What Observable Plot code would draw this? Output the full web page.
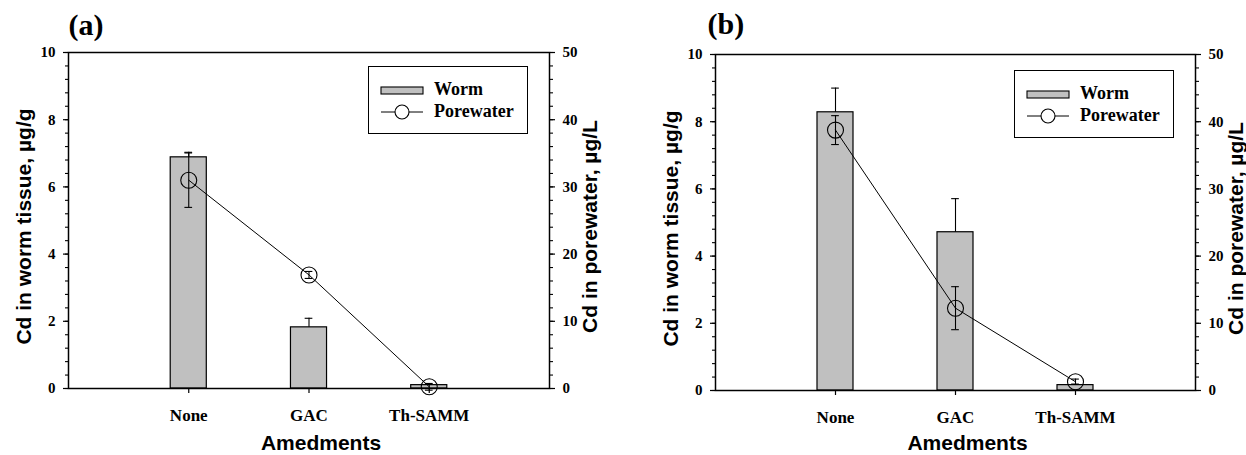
<!DOCTYPE html>
<html>
<head>
<meta charset="utf-8">
<script src="https://cdn.jsdelivr.net/npm/d3@7"></script>
<script src="https://cdn.jsdelivr.net/npm/@observablehq/plot@0.6"></script>
<style>
  body { margin: 0; background: #fff; }
  #wrap { position: relative; width: 1246px; height: 455px; overflow: hidden; background: #fff; }
  .panel { position: absolute; top: 0; }
  .legend { position: absolute; box-sizing: border-box; border: 1.3px solid #000; background: #fff; }
</style>
</head>
<body>
<div id="wrap"></div>
<script>
// ---- data ----
const categories = ["None", "GAC", "Th-SAMM"];
const panelTitles = ["(a)", "(b)"];
const seriesNames = ["Worm", "Porewater"];
const xLabel = "Amedments";
const yLabelLeft = "Cd in worm tissue, µg/g";
const yLabelRight = "Cd in porewater, µg/L";

const wormA = [6.88, 1.82, 0.10];
const wormErrA = [0.15, 0.27, 0.03];
const poreA = [31.0, 16.9, 0.25];
const poreErrA = [4.05, 0.52, 0.5];

const wormB = [8.28, 4.71, 0.16];
const wormErrB = [0.72, 1.0, 0.03];
const poreB = [38.75, 12.25, 1.3];
const poreErrB = [2.15, 3.2, 0.4];

const leftTicks = [0, 2, 4, 6, 8, 10];
const rightTicks = [0, 10, 20, 30, 40, 50];
const rightToLeft = 5; // right axis max 50 vs left axis max 10

// ---- chart ----
const wrap = document.getElementById("wrap");
const serif = "'Liberation Serif', 'Times New Roman', serif";
const sans = "'Liberation Sans', Arial, sans-serif";

function panel({worm, wormErr, pore, poreErr, title, margins, titleDx, titleDy, xLabelDy}) {
  const idx = categories.map((_, i) => i);
  const pos = i => i + 1;
  const halfBar = 0.15, halfCap = 0.032;
  const leftMinor = d3.range(0, 10.001, 0.4);
  const rightMinor = d3.range(0, 50.001, 2).map(v => v / rightToLeft);
  return Plot.plot({
    width: 623,
    height: 455,
    ...margins,
    style: {fontFamily: serif, fontWeight: "bold", fontSize: "15px", color: "#000", background: "#fff"},
    x: {domain: [0, 4], axis: null},
    y: {domain: [0, 10], axis: null},
    marks: [
      // bars (worm)
      Plot.rectY(idx, {x1: i => pos(i) - halfBar, x2: i => pos(i) + halfBar, y1: 0, y2: i => worm[i],
        fill: "#c0c0c0", stroke: "#000", strokeWidth: 1.2}),
      // worm error (upper)
      Plot.ruleX(idx, {x: pos, y1: i => worm[i], y2: i => worm[i] + wormErr[i], stroke: "#000", strokeWidth: 1.1}),
      Plot.ruleY(idx, {y: i => worm[i] + wormErr[i], x1: i => pos(i) - halfCap, x2: i => pos(i) + halfCap, stroke: "#000", strokeWidth: 1.1}),
      // porewater line
      Plot.line(idx, {x: pos, y: i => pore[i] / rightToLeft, stroke: "#000", strokeWidth: 1}),
      // porewater errors
      Plot.ruleX(idx, {x: pos, y1: i => (pore[i] - poreErr[i]) / rightToLeft, y2: i => (pore[i] + poreErr[i]) / rightToLeft, stroke: "#000", strokeWidth: 1.1}),
      Plot.ruleY(idx, {y: i => (pore[i] - poreErr[i]) / rightToLeft, x1: i => pos(i) - halfCap, x2: i => pos(i) + halfCap, stroke: "#000", strokeWidth: 1.1}),
      Plot.ruleY(idx, {y: i => (pore[i] + poreErr[i]) / rightToLeft, x1: i => pos(i) - halfCap, x2: i => pos(i) + halfCap, stroke: "#000", strokeWidth: 1.1}),
      // porewater points
      Plot.dot(idx, {x: pos, y: i => pore[i] / rightToLeft, r: 8, stroke: "#000", fill: "none", strokeWidth: 1.1}),
      // frame
      Plot.frame({stroke: "#000", strokeWidth: 1.5}),
      // left axis
      Plot.axisY(leftMinor, {anchor: "left", tickSize: 3, tickFormat: () => "", label: null, strokeWidth: 1.1}),
      Plot.axisY(leftTicks, {anchor: "left", tickSize: 5, tickPadding: 8, label: null, strokeWidth: 1.2,
        fontFamily: serif, fontWeight: "bold", fontSize: 15}),
      // right axis
      Plot.axisY(rightMinor, {anchor: "right", tickSize: 3, tickFormat: () => "", label: null, strokeWidth: 1.1}),
      Plot.axisY(rightTicks.map(v => v / rightToLeft), {anchor: "right", tickSize: 5, tickPadding: 8, label: null,
        tickFormat: v => String(Math.round(v * rightToLeft)), strokeWidth: 1.2,
        fontFamily: serif, fontWeight: "bold", fontSize: 15}),
      // x axis
      Plot.axisX(idx.map(pos), {anchor: "bottom", tickSize: 5, tickPadding: 15, label: null,
        tickFormat: v => categories[v - 1], strokeWidth: 1.2,
        fontFamily: serif, fontWeight: "bold", fontSize: 17}),
      // axis titles
      Plot.text([xLabel], {frameAnchor: "bottom", textAnchor: "middle", lineAnchor: "middle", dx: 12, dy: xLabelDy,
        fontFamily: sans, fontWeight: "bold", fontSize: 21}),
      Plot.text([yLabelLeft], {frameAnchor: "left", textAnchor: "middle", lineAnchor: "middle", rotate: -90, dx: -44, dy: 6,
        fontFamily: sans, fontWeight: "bold", fontSize: 21}),
      Plot.text([yLabelRight], {frameAnchor: "right", textAnchor: "middle", lineAnchor: "middle", rotate: -90, dx: 41, dy: 6,
        fontFamily: sans, fontWeight: "bold", fontSize: 21}),
      // panel title
      Plot.text([title], {frameAnchor: "top-left", textAnchor: "start", lineAnchor: "middle", dx: titleDx, dy: titleDy,
        fontFamily: serif, fontWeight: "bold", fontSize: 30})
    ]
  });
}

function legend(left, top) {
  const div = document.createElement("div");
  div.className = "legend";
  div.style.left = left + "px";
  div.style.top = top + "px";
  div.style.width = "160px";
  div.style.height = "68px";
  const svg = d3.create("svg").attr("width", 158).attr("height", 66).style("display", "block");
  svg.append("rect").attr("x", 12).attr("y", 20).attr("width", 42).attr("height", 7)
    .attr("fill", "#c0c0c0").attr("stroke", "#000").attr("stroke-width", 1.1);
  svg.append("line").attr("x1", 12).attr("x2", 54).attr("y1", 45).attr("y2", 45).attr("stroke", "#000");
  svg.append("circle").attr("cx", 33).attr("cy", 45).attr("r", 7).attr("fill", "#fff").attr("stroke", "#000").attr("stroke-width", 1.1);
  svg.selectAll("text.lab").data(seriesNames).join("text").attr("class", "lab")
    .attr("x", 65).attr("y", (d, i) => i === 0 ? 28 : 50)
    .attr("font-family", serif).attr("font-weight", "bold").attr("font-size", 18).text(d => d);
  div.appendChild(svg.node());
  return div;
}

const pa = panel({worm: wormA, wormErr: wormErrA, pore: poreA, poreErr: poreErrA, title: panelTitles[0],
  margins: {marginLeft: 68, marginRight: 74, marginTop: 52, marginBottom: 67}, titleDx: 0, titleDy: -27, xLabelDy: 55});
const pb = panel({worm: wormB, wormErr: wormErrB, pore: poreB, poreErr: poreErrB, title: panelTitles[1],
  margins: {marginLeft: 92, marginRight: 51, marginTop: 54, marginBottom: 65}, titleDx: -8, titleDy: -30, xLabelDy: 53});

const da = document.createElement("div"); da.className = "panel"; da.style.left = "0px"; da.appendChild(pa);
const db = document.createElement("div"); db.className = "panel"; db.style.left = "623px"; db.appendChild(pb);
wrap.appendChild(da);
wrap.appendChild(db);
wrap.appendChild(legend(368, 66));
wrap.appendChild(legend(1014, 70));
</script>
</body>
</html>
